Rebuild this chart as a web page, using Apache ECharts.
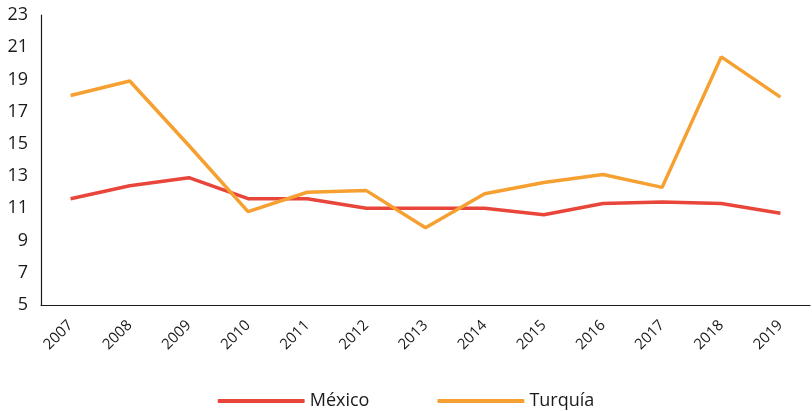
<!DOCTYPE html>
<html>
<head>
<meta charset="utf-8">
<script src="https://cdn.jsdelivr.net/npm/echarts@6/dist/echarts.min.js"></script>
<style>
  html, body { margin: 0; padding: 0; background: #fff; }
  #main { width: 812px; height: 411px; }
</style>
</head>
<body>
<div id="main"></div>
<script>
var years = ['2007', '2008', '2009', '2010', '2011', '2012', '2013', '2014', '2015', '2016', '2017', '2018', '2019'];
var mexico = [11.6, 12.4, 12.9, 11.6, 11.6, 11.0, 11.0, 11.0, 10.6, 11.3, 11.4, 11.3, 10.7];
var turquia = [18.0, 18.9, 14.9, 10.8, 12.0, 12.1, 9.8, 11.9, 12.6, 13.1, 12.3, 20.4, 17.9];

var chart = echarts.init(document.getElementById('main'));
var font = 'Open Sans';
var option = {
  animation: false,
  grid: { left: 41, right: 2, top: 15, bottom: 106, containLabel: false },
  legend: {
    data: ['México', 'Turquía'],
    left: 'center',
    top: 387,
    icon: 'roundRect',
    itemWidth: 87,
    itemHeight: 4,
    itemGap: 68,
    textStyle: { fontFamily: font, fontSize: 18, color: '#1a1a1a' }
  },
  xAxis: {
    type: 'category',
    data: years,
    boundaryGap: true,
    axisLine: { lineStyle: { color: '#1a1a1a', width: 1.2 } },
    axisTick: { show: false },
    axisLabel: {
      rotate: 45,
      margin: 18,
      fontFamily: font,
      fontSize: 15,
      color: '#1a1a1a'
    }
  },
  yAxis: {
    type: 'value',
    min: 5,
    max: 23,
    interval: 2,
    splitLine: { show: false },
    axisLine: { show: true, lineStyle: { color: '#1a1a1a', width: 1.2 } },
    axisTick: { show: false },
    axisLabel: { margin: 13, fontFamily: font, fontSize: 18, color: '#1a1a1a' }
  },
  series: [
    {
      name: 'México',
      type: 'line',
      data: mexico,
      showSymbol: false,
      symbol: 'none',
      color: '#E9463B',
      lineStyle: { width: 3.5, color: '#E9463B' }
    },
    {
      name: 'Turquía',
      type: 'line',
      data: turquia,
      showSymbol: false,
      symbol: 'none',
      color: '#F6A031',
      lineStyle: { width: 3.5, color: '#F6A031' }
    }
  ]
};
chart.setOption(option);
</script>
</body>
</html>
